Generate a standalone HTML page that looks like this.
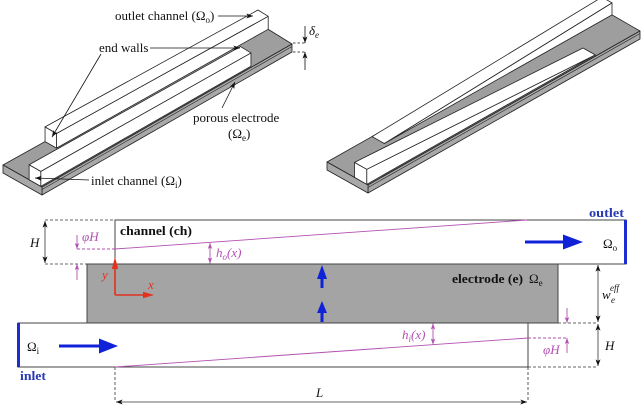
<!DOCTYPE html>
<html><head><meta charset="utf-8"><style>
html,body{margin:0;padding:0;background:#fff;}
svg{display:block;}
text{font-family:"Liberation Serif",serif;}
</style></head><body>
<svg width="643" height="409" viewBox="0 0 643 409" xmlns="http://www.w3.org/2000/svg">
<defs>
<marker id="ab" viewBox="0 0 8 6" refX="8" refY="3" markerWidth="7" markerHeight="5" orient="auto-start-reverse" markerUnits="userSpaceOnUse"><path d="M0,0 L8,3 L0,6 L2,3 z" fill="#111"/></marker>
<marker id="am" viewBox="0 0 8 6" refX="8" refY="3" markerWidth="6" markerHeight="5" orient="auto-start-reverse" markerUnits="userSpaceOnUse"><path d="M0,0 L8,3 L0,6 L2,3 z" fill="#b24fb2"/></marker>
</defs>

<!-- ============ LEFT 3D DRAWING ============ -->
<g stroke="#222" stroke-width="0.8" stroke-linejoin="round">
  <!-- plate -->
  <polygon points="3,165 42,187 292,44 258,23" fill="#9e9e9e"/>
  <polygon points="42,187 292,44 292,52 42,195" fill="#a8a8a8"/>
  <polygon points="3,165 42,187 42,195 3,173" fill="#a8a8a8"/>
  <line x1="42" y1="189.5" x2="292" y2="46.5" stroke-width="0.6"/>
  <!-- back (outlet) block -->
  <polygon points="45.05,141.6 56.5,148.1 56.5,133.5 45.05,126.9" fill="#fff"/>
  <polygon points="56.5,148.1 268.2,29.3 268.2,16.3 56.5,133.5" fill="#fff"/>
  <polygon points="56.5,133.5 268.2,16.3 258,10 45.05,126.9" fill="#fff"/>
  <!-- front (inlet) block -->
  <polygon points="29.13,179.74 40.83,186.34 40.83,171.34 29.13,164.74" fill="#fff"/>
  <polygon points="40.83,186.34 250.96,66.25 250.96,52.93 40.83,171.34" fill="#fff"/>
  <polygon points="40.83,171.34 250.96,52.93 240.52,46.58 29.13,164.74" fill="#fff"/>
</g>

<!-- left labels -->
<g font-size="13" fill="#111">
  <text x="115" y="20">outlet channel (Ω<tspan font-size="9" dy="3">o</tspan><tspan dy="-3">)</tspan></text>
  <text x="99" y="52">end walls</text>
  <text x="193" y="122">porous electrode</text>
  <text x="228" y="138">(Ω<tspan font-size="9" dy="3">e</tspan><tspan dy="-3">)</tspan></text>
  <text x="91" y="185">inlet channel (Ω<tspan font-size="9" dy="3">i</tspan><tspan dy="-3">)</tspan></text>
  <text x="309" y="35" font-style="italic">δ<tspan font-size="9" dy="3">e</tspan></text>
</g>
<g stroke="#111" stroke-width="0.8" fill="none">
  <line x1="218" y1="16" x2="253" y2="16" marker-end="url(#ab)"/>
  <line x1="150" y1="48" x2="240" y2="48" marker-end="url(#ab)"/>
  <line x1="101" y1="54" x2="52" y2="137" marker-end="url(#ab)"/>
  <line x1="222" y1="108" x2="235" y2="82" marker-end="url(#ab)"/>
  <line x1="89" y1="180" x2="35" y2="178" marker-end="url(#ab)"/>
  <line x1="293" y1="43" x2="306" y2="43" stroke-dasharray="2.5,2"/>
  <line x1="293" y1="52" x2="306" y2="52" stroke-dasharray="2.5,2"/>
  <line x1="305" y1="26" x2="305" y2="43" marker-end="url(#ab)"/>
  <line x1="305" y1="70" x2="305" y2="52" marker-end="url(#ab)"/>
</g>

<!-- ============ RIGHT 3D DRAWING ============ -->
<g stroke="#222" stroke-width="0.8" stroke-linejoin="round">
  <polygon points="327,162 368,185 640,31 600,8" fill="#9e9e9e"/>
  <polygon points="368,185 640,31 640,39 368,193" fill="#a8a8a8"/>
  <polygon points="327,162 368,185 368,193 327,170" fill="#a8a8a8"/>
  <line x1="368" y1="187.5" x2="640" y2="33.5" stroke-width="0.6"/>
  <!-- outlet wedge (back) -->
  <polygon points="384.3,143.5 612,14.9 612,2.9 384.3,143.5" fill="#fff"/>
  <polygon points="384.3,143.5 612,2.9 602,-2.9 372.1,136.6" fill="#fff"/>
  <!-- inlet wedge (front) -->
  <polygon points="354.5,177.4 366.8,184.3 366.8,169.3 354.5,162.4" fill="#fff"/>
  <polygon points="366.8,184.3 595.3,54.9 366.8,169.3" fill="#fff"/>
  <polygon points="366.8,169.3 595.3,54.9 583,48 354.5,162.4" fill="#fff"/>
</g>

<!-- ============ 2D DIAGRAM ============ -->
<!-- electrode -->
<rect x="87" y="264" width="471" height="59" fill="#a4a4a4" stroke="#444" stroke-width="1"/>
<!-- channels -->
<rect x="115" y="220" width="511" height="44" fill="none" stroke="#444" stroke-width="1"/>
<rect x="18" y="323" width="510" height="44" fill="none" stroke="#444" stroke-width="1"/>
<!-- inlet/outlet bars -->
<line x1="625.5" y1="220" x2="625.5" y2="264" stroke="#1b2fd0" stroke-width="3"/>
<line x1="18.5" y1="323" x2="18.5" y2="367" stroke="#1b2fd0" stroke-width="3"/>

<!-- dashed & dimension lines -->
<g stroke="#333" stroke-width="0.8" fill="none">
  <line x1="45" y1="220" x2="115" y2="220" stroke-dasharray="3,2"/>
  <line x1="45" y1="264" x2="87" y2="264" stroke-dasharray="3,2"/>
  <line x1="558" y1="323" x2="598" y2="323" stroke-dasharray="3,2"/>
  <line x1="528" y1="367" x2="598" y2="367" stroke-dasharray="3,2"/>
  <line x1="115" y1="367" x2="115" y2="402" stroke-dasharray="3,2"/>
  <line x1="528" y1="367" x2="528" y2="402" stroke-dasharray="3,2"/>
  <line x1="116" y1="402" x2="527" y2="402" marker-start="url(#ab)" marker-end="url(#ab)"/>
  <line x1="45" y1="221" x2="45" y2="263" marker-start="url(#ab)" marker-end="url(#ab)"/>
  <line x1="598" y1="265" x2="598" y2="322" marker-start="url(#ab)" marker-end="url(#ab)"/>
  <line x1="598" y1="324" x2="598" y2="366" marker-start="url(#ab)" marker-end="url(#ab)"/>
</g>

<!-- magenta -->
<g stroke="#b24fb2" stroke-width="0.9" fill="none">
  <line x1="115" y1="249" x2="527" y2="220"/>
  <line x1="77" y1="249" x2="115" y2="249" stroke-dasharray="3,2"/>
  <line x1="77" y1="235" x2="77" y2="249" marker-end="url(#am)"/>
  <line x1="77" y1="280" x2="77" y2="264" marker-end="url(#am)"/>
  <line x1="210" y1="263.5" x2="210" y2="243" marker-start="url(#am)" marker-end="url(#am)"/>
  <line x1="115" y1="367" x2="528" y2="338"/>
  <line x1="528" y1="338" x2="567" y2="338" stroke-dasharray="3,2"/>
  <line x1="567" y1="308" x2="567" y2="323" marker-end="url(#am)"/>
  <line x1="567" y1="353" x2="567" y2="338" marker-end="url(#am)"/>
  <line x1="433" y1="323.5" x2="433" y2="344.5" marker-start="url(#am)" marker-end="url(#am)"/>
</g>

<!-- blue flow arrows -->
<g fill="#0f22d8" stroke="none">
  <rect x="525" y="240.5" width="40" height="3"/>
  <polygon points="563,234.5 583,242 563,249.5"/>
  <rect x="59" y="344.5" width="42" height="3"/>
  <polygon points="99,338.5 118,346 99,353.5"/>
  <rect x="320.5" y="276" width="3" height="12"/>
  <polygon points="317,279 322,265 327,279"/>
  <rect x="320.5" y="311" width="3" height="11"/>
  <polygon points="317,313 322,301 327,313"/>
</g>

<!-- red axes -->
<g fill="#e2321e" stroke="#e2321e">
  <line x1="115" y1="295" x2="115" y2="268" stroke-width="1.6"/>
  <polygon points="111.8,269 115,257 118.2,269" stroke="none"/>
  <line x1="115" y1="295" x2="144" y2="295" stroke-width="1.6"/>
  <polygon points="143,291.8 154,295 143,298.2" stroke="none"/>
</g>

<!-- 2D labels -->
<g font-size="13" fill="#111">
  <text x="120" y="235" font-weight="bold" textLength="72" lengthAdjust="spacingAndGlyphs">channel (ch)</text>
  <text x="452" y="283" font-weight="bold" textLength="71" lengthAdjust="spacingAndGlyphs">electrode (e)</text>
  <text x="529" y="283">Ω<tspan font-size="9" dy="3">e</tspan></text>
  <text x="30" y="247" font-style="italic">H</text>
  <text x="605" y="350" font-style="italic">H</text>
  <text x="316" y="397" font-style="italic">L</text>
  <text x="603" y="248">Ω<tspan font-size="9" dy="3">o</tspan></text>
  <text x="27" y="351">Ω<tspan font-size="9" dy="3">i</tspan></text>
  <text x="602" y="299" font-style="italic">w</text>
  <text x="611" y="303" font-style="italic" font-size="9">e</text>
  <text x="610" y="291" font-style="italic" font-size="9">eff</text>
</g>
<g font-size="13" fill="#2a3ab4" font-weight="bold">
  <text x="589" y="217" textLength="35" lengthAdjust="spacingAndGlyphs">outlet</text>
  <text x="20" y="380" textLength="26" lengthAdjust="spacingAndGlyphs">inlet</text>
</g>
<g font-size="13" fill="#b24fb2" font-style="italic">
  <text x="82" y="241">φH</text>
  <text x="543" y="354">φH</text>
  <text x="216" y="257">h<tspan font-size="9" dy="3">o</tspan><tspan dy="-3">(x)</tspan></text>
  <text x="402" y="339">h<tspan font-size="9" dy="3">i</tspan><tspan dy="-3">(x)</tspan></text>
</g>
<g font-size="13" fill="#e2321e" font-style="italic">
  <text x="102" y="279">y</text>
  <text x="148" y="289">x</text>
</g>
</svg>
</body></html>
